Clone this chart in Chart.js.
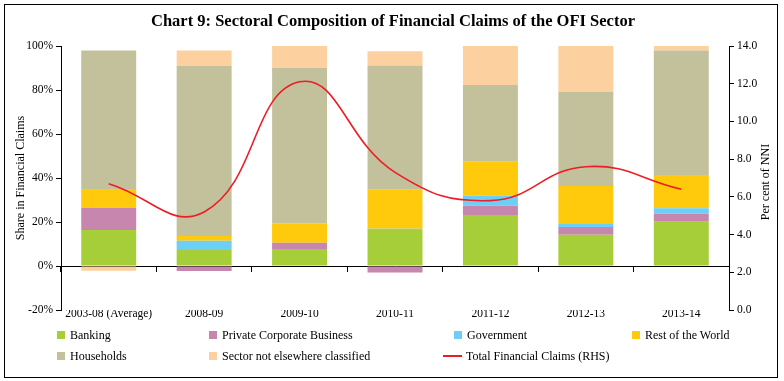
<!DOCTYPE html>
<html>
<head>
<meta charset="utf-8">
<script src="https://cdn.jsdelivr.net/npm/chart.js@4/dist/chart.umd.min.js"></script>
<style>
  html, body { margin: 0; padding: 0; background: #fff; }
  #wrap { position: relative; width: 784px; height: 381px; overflow: hidden; font-family: "Liberation Serif", serif; }
  #frame { position: absolute; left: 4px; top: 4px; width: 772px; height: 372px; border: 1px solid #000; pointer-events: none; }
  #title { position: absolute; left: 0; top: 11px; width: 786px; text-align: center; font-weight: bold; font-size: 16.5px; color: #000; }
  #legend { position: absolute; left: 0; top: 0; width: 784px; height: 381px; pointer-events: none; font-size: 12px; color: #000; }
  .li { position: absolute; white-space: nowrap; line-height: 14px; }
  .sw { position: absolute; }
</style>
</head>
<body>
<div id="wrap">
  <canvas id="c" width="784" height="381"></canvas>
  <div id="title">Chart 9: Sectoral Composition of Financial Claims of the OFI Sector</div>
  <div id="legend"></div>
  <div id="frame"></div>
</div>
<script>
const categories = ['2003-08 (Average)', '2008-09', '2009-10', '2010-11', '2011-12', '2012-13', '2013-14'];
const banking          = [16.4,  7.3,  7.7, 16.4, 23.2, 14.2, 20.1];
const privateCorporate = [10.1, -2.3,  2.9, -2.9,  4.2,  3.5,  3.7];
const government       = [ 0.0,  4.2,  0.0,  0.5,  4.6,  1.7,  2.4];
const restOfWorld      = [ 8.5,  2.1,  8.8, 17.8, 15.4, 17.0, 15.2];
const households       = [62.9, 77.4, 70.7, 56.4, 34.9, 42.8, 56.5];
const notClassified    = [-2.2,  6.9,  9.9,  6.5, 17.7, 20.8,  2.1];
const totalClaims      = [ 6.7,  5.2, 12.1,  7.3,  5.8,  7.6,  6.4];
const leftTicks = [-20, 0, 20, 40, 60, 80, 100];
const rightTicks = [0, 2, 4, 6, 8, 10, 12, 14];

const FONT = "'Liberation Serif', serif";
const barDefaults = { type: 'bar', order: 1, yAxisID: 'y', xAxisID: 'x', barPercentage: 0.576, categoryPercentage: 1, borderWidth: 0 };

const rightTitlePlugin = {
  id: 'rightTitle',
  afterDraw(chart) {
    const ctx = chart.ctx, a = chart.chartArea;
    ctx.save();
    ctx.fillStyle = '#000';
    ctx.font = '12px ' + FONT;
    ctx.textAlign = 'center';
    ctx.textBaseline = 'middle';
    ctx.translate(766, (a.top + a.bottom) / 2 + 4);
    ctx.rotate(-Math.PI / 2);
    ctx.fillText('Per cent of NNI', 0, 0);
    ctx.restore();
  }
};

const chart = new Chart(document.getElementById('c'), {
  data: {
    labels: categories,
    datasets: [
      Object.assign({ label: 'Banking', data: banking, backgroundColor: '#a6ce39' }, barDefaults),
      Object.assign({ label: 'Private Corporate Business', data: privateCorporate, backgroundColor: '#c786ae' }, barDefaults),
      Object.assign({ label: 'Government', data: government, backgroundColor: '#6dcff6' }, barDefaults),
      Object.assign({ label: 'Rest of the World', data: restOfWorld, backgroundColor: '#ffc90c' }, barDefaults),
      Object.assign({ label: 'Households', data: households, backgroundColor: '#c3c19c' }, barDefaults),
      Object.assign({ label: 'Sector not elsewhere classified', data: notClassified, backgroundColor: '#fcd19f' }, barDefaults),
      { type: 'line', label: 'Total Financial Claims (RHS)', data: totalClaims, yAxisID: 'y1', xAxisID: 'x', order: 0,
        borderColor: '#ee1c25', borderWidth: 1.6, pointRadius: 0, tension: 0.45, fill: false }
    ]
  },
  options: {
    responsive: false,
    animation: false,
    layout: { padding: { left: 5, right: 6, top: 46, bottom: 50 } },
    plugins: { legend: { display: false }, tooltip: { enabled: false }, title: { display: false } },
    scales: {
      x: {
        type: 'category', position: 'bottom', stacked: true, offset: true,
        grid: { display: false, drawTicks: false },
        border: { display: false },
        ticks: { color: '#000', font: { family: FONT, size: 11.5 }, padding: -3, maxRotation: 0, autoSkip: false },
        afterFit(s) { s.height = 381 - 50 - 310; }
      },
      xz: {
        type: 'category', position: { y: 0 }, offset: true,
        grid: { display: true, offset: true, drawOnChartArea: false, drawTicks: true, tickLength: 5, color: '#000', lineWidth: 1 },
        border: { display: true, color: '#000', width: 1 },
        ticks: { display: false }
      },
      y: {
        position: 'left', stacked: true, min: -20, max: 100,
        afterBuildTicks(s) { s.ticks = leftTicks.map(v => ({ value: v })); },
        ticks: { color: '#000', font: { family: FONT, size: 11.5 }, padding: 3, callback: v => v + '%' },
        grid: { display: true, drawOnChartArea: false, drawTicks: true, tickLength: 5, color: '#000' },
        border: { display: true, color: '#000', width: 1 },
        title: { display: true, text: 'Share in Financial Claims', color: '#000', font: { family: FONT, size: 12 }, padding: { top: 9, bottom: 0 } },
        afterFit(s) { s.width = 56; }
      },
      y1: {
        position: 'right', stacked: false, min: 0, max: 14,
        afterBuildTicks(s) { s.ticks = rightTicks.map(v => ({ value: v })); },
        ticks: { color: '#000', font: { family: FONT, size: 11.5 }, padding: 3, callback: v => Number(v).toFixed(1) },
        grid: { display: true, drawOnChartArea: false, drawTicks: true, tickLength: 5, color: '#000' },
        border: { display: true, color: '#000', width: 1 },
        afterFit(s) { s.width = 49; }
      }
    }
  },
  plugins: [rightTitlePlugin]
});

// HTML legend built from the chart's own datasets
const legendPos = [
  { x: 57, y: 335 }, { x: 209, y: 335 }, { x: 454, y: 335 }, { x: 632, y: 335 },
  { x: 57, y: 356 }, { x: 209, y: 356 }, { x: 443, y: 356 }
];
const legendEl = document.getElementById('legend');
chart.data.datasets.forEach((ds, i) => {
  const p = legendPos[i];
  const sw = document.createElement('div');
  sw.className = 'sw';
  let textX;
  if (ds.type === 'line') {
    sw.style.left = p.x + 'px'; sw.style.top = (p.y - 1) + 'px';
    sw.style.width = '19px'; sw.style.height = '2px';
    sw.style.background = ds.borderColor;
    textX = p.x + 23;
  } else {
    sw.style.left = p.x + 'px'; sw.style.top = (p.y - 4) + 'px';
    sw.style.width = '8px'; sw.style.height = '8px';
    sw.style.background = ds.backgroundColor;
    textX = p.x + 13;
  }
  legendEl.appendChild(sw);
  const t = document.createElement('div');
  t.className = 'li';
  t.style.left = textX + 'px'; t.style.top = (p.y - 7) + 'px';
  t.textContent = ds.label;
  legendEl.appendChild(t);
});
</script>
</body>
</html>
